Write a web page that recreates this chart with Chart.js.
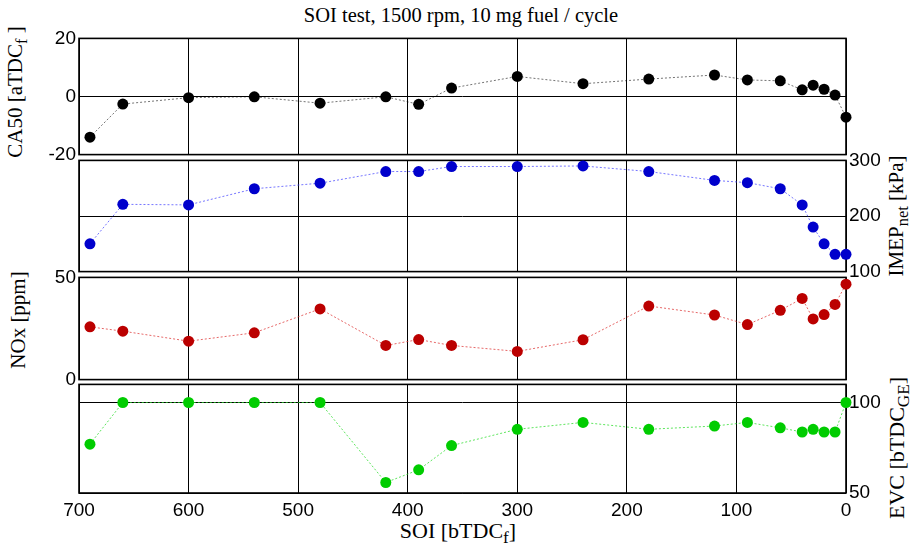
<!DOCTYPE html>
<html>
<head>
<meta charset="utf-8">
<script src="https://cdn.jsdelivr.net/npm/chart.js@4/dist/chart.umd.min.js"></script>
<style>
    body { margin: 0; background: #fff; }
    #wrap { position: relative; width: 921px; height: 551px; overflow: hidden; background: #fff; }
    canvas { position: absolute; left: 0; }
    .lbl { position: absolute; font-family: "Liberation Serif", serif; font-size: 21px; white-space: nowrap; color: #000; line-height: 1; }
    .rot { transform: translate(-50%, -50%) rotate(-90deg); }
    .mid { transform: translate(-50%, -50%); }
    sub { font-size: 78%; vertical-align: -0.3em; }
</style>
</head>
<body>
<div id="wrap">
    <div class="lbl mid" style="left:461px;top:15px;font-size:20.5px;">SOI test, 1500 rpm, 10 mg fuel / cycle</div>
    <div class="lbl rot" style="left:18px;top:92px;">CA50 [aTDC<sub>f</sub> ]</div>
    <div class="lbl rot" style="left:18px;top:320px;">NOx [ppm]</div>
    <div class="lbl rot" style="left:899px;top:216px;">IMEP<sub>net</sub> [kPa]</div>
    <div class="lbl rot" style="left:899px;top:448px;font-size:22px;">EVC [bTDC<sub>GE</sub>]</div>
    <div class="lbl mid" style="left:458px;top:533px;font-size:22px;">SOI [bTDC<sub>f</sub>]</div>
    <canvas id="c1"></canvas>
    <canvas id="c2"></canvas>
    <canvas id="c3"></canvas>
    <canvas id="c4"></canvas>
</div>
<script>
    // start of injection, deg before TDC
    const soi = [690, 660, 600, 540, 480, 420, 390, 360, 300, 240, 180, 120, 90, 60, 40, 30, 20, 10, 0];
    const ca50 = [-14, -2.6, -0.4, -0.1, -2.3, -0.1, -2.7, 2.9, 6.9, 4.4, 6.0, 7.4, 5.7, 5.4, 2.3, 3.9, 2.5, 0.5, -7.1];
    const imep = [150, 221, 220, 249, 259, 280, 280, 289, 289, 290, 280, 264, 260, 249, 220, 180, 150, 131, 131];
    const nox = [25.8, 23.7, 18.8, 22.9, 34.6, 16.7, 19.6, 16.7, 13.8, 19.5, 36, 31.6, 26.9, 33.9, 39.7, 29.7, 31.8, 36.8, 46.7];
    const evc = [77, 100, 100, 100, 100, 55.8, 62.8, 76.2, 85.2, 89, 85.2, 87, 89, 86, 83.7, 85.2, 83.7, 83.7, 100];

    const xTicks = [700, 600, 500, 400, 300, 200, 100, 0];
    const ca50Ticks = [-20, 0, 20];
    const imepTicks = [100, 200, 300];
    const noxTicks = [0, 50];
    const evcTicks = [50, 100];

    const boxPlugin = {
        id: 'box',
        beforeDatasetsDraw(chart) {
            const a = chart.chartArea, c = chart.ctx;
            c.save();
            c.strokeStyle = '#000';
            c.lineWidth = 1.6;
            c.strokeRect(a.left, a.top, a.right - a.left, a.bottom - a.top);
            c.restore();
        }
    };

    const tickFont = { family: 'Liberation Sans, Arial, sans-serif', size: 19 };

    function makePanel(id, top, bottom, values, color, lineColor, yMin, yMax, yTicks, side, showX) {
        const padT = 14, padB = showX ? 6 : 14;
        const xH = showX ? 30 : 0;
        const cv = document.getElementById(id);
        cv.width = 921;
        cv.height = bottom - top + padT + padB + xH;
        cv.style.top = (top - padT) + 'px';
        const axisW = 40;
        return new Chart(cv, {
            type: 'line',
            data: {
                datasets: [{
                    data: soi.map((s, i) => ({ x: s, y: values[i] })),
                    borderColor: lineColor,
                    borderWidth: 1,
                    borderDash: [2, 2],
                    pointRadius: 5.5,
                    pointBackgroundColor: color,
                    pointBorderWidth: 0,
                    clip: false
                }]
            },
            options: {
                responsive: false,
                devicePixelRatio: 1,
                animation: false,
                layout: {
                    padding: {
                        top: padT,
                        bottom: padB,
                        left: side === 'left' ? 79 - axisW : 79,
                        right: side === 'right' ? 75 - axisW : 75
                    }
                },
                plugins: { legend: { display: false }, tooltip: { enabled: false } },
                scales: {
                    x: {
                        type: 'linear',
                        reverse: true,
                        min: 0,
                        max: 700,
                        afterBuildTicks: s => { s.ticks = xTicks.map(v => ({ value: v })); },
                        afterFit: s => { s.height = xH; },
                        border: { display: false },
                        grid: { color: '#000', lineWidth: 1, drawTicks: false },
                        ticks: { display: showX, autoSkip: false, maxRotation: 0, padding: 6, color: '#000', font: tickFont }
                    },
                    y: {
                        position: side,
                        min: yMin,
                        max: yMax,
                        afterBuildTicks: s => { s.ticks = yTicks.map(v => ({ value: v })); },
                        afterFit: s => { s.width = axisW; },
                        border: { display: false },
                        grid: { color: '#000', lineWidth: 1, drawTicks: false },
                        ticks: { padding: 3, color: '#000', font: tickFont }
                    }
                }
            },
            plugins: [boxPlugin]
        });
    }

    makePanel('c1', 38, 155, ca50, '#000000', 'rgba(0,0,0,0.55)', -20, 20, ca50Ticks, 'left', false);
    makePanel('c2', 160, 272, imep, '#0000cc', 'rgba(60,60,255,0.7)', 100, 300, imepTicks, 'right', false);
    makePanel('c3', 277, 380, nox, '#bb0000', 'rgba(220,40,40,0.7)', 0, 50, noxTicks, 'left', false);
    makePanel('c4', 384, 493, evc, '#00cc00', 'rgba(40,220,40,0.75)', 50, 110, evcTicks, 'right', true);
</script>
</body>
</html>
